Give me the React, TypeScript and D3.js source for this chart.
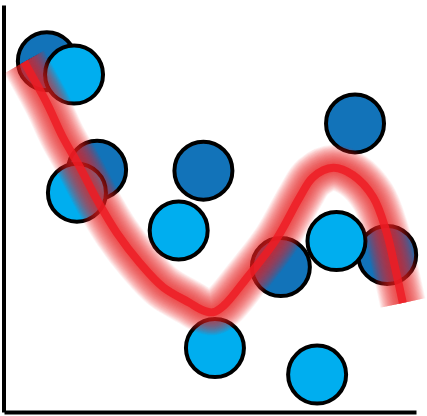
import { useRef, useEffect } from "react";
import * as d3 from "d3";

// dark blue points
const darkX = [1.04, 2.26, 4.84, 8.52, 6.72, 9.30];
const darkY = [8.62, 5.95, 5.93, 7.09, 3.56, 3.86];
// light blue points
const lightX = [1.70, 1.77, 4.24, 5.12, 7.60, 8.07];
const lightY = [8.29, 5.39, 4.46, 1.57, 0.92, 4.20];
// smoothed trend line
const trendX = [0.49, 1.04, 1.43, 1.84, 2.26, 2.74, 3.30, 3.86, 4.51, 4.76, 5.07, 5.34, 5.85, 6.60, 7.18, 7.50, 7.99, 8.47, 8.96, 9.27, 9.49, 9.68];
const trendY = [8.60, 7.59, 6.75, 6.02, 5.21, 4.40, 3.66, 3.07, 2.68, 2.53, 2.45, 2.62, 3.24, 4.23, 5.28, 5.77, 6.00, 5.82, 5.28, 4.47, 3.56, 2.68];

const W = 427;
const H = 416;

export default function App() {
  const svgRef = useRef<SVGSVGElement>(null);

  useEffect(() => {
    if (!svgRef.current) return;
    const svg = d3.select(svgRef.current);
    svg.selectAll("*").remove();

    const x = d3.scaleLinear().domain([0, 10]).range([4, 416]);
    const y = d3.scaleLinear().domain([0, 10]).range([412, 5]);

    const r = 29;
    const dark = darkX.map((v, i) => ({ x: v, y: darkY[i] }));
    const light = lightX.map((v, i) => ({ x: v, y: lightY[i] }));
    const trend = trendX.map((v, i) => ({ x: v, y: trendY[i] }));

    // Axes (lines only)
    svg.append("g").attr("transform", `translate(${x.range()[0] - 0.5},0)`)
      .call(d3.axisLeft(y).ticks(0).tickSizeOuter(0))
      .call(gEl => gEl.select(".domain").attr("stroke", "#000").attr("stroke-width", 4));
    svg.append("g").attr("transform", `translate(0,${y.range()[0]})`)
      .call(d3.axisBottom(x).ticks(0).tickSizeOuter(0))
      .call(gEl => gEl.select(".domain").attr("stroke", "#000").attr("stroke-width", 4));

    // Circles
    svg.append("g").selectAll("circle").data(dark).enter().append("circle")
      .attr("cx", d => x(d.x)).attr("cy", d => y(d.y)).attr("r", r)
      .attr("fill", "#1273b9").attr("stroke", "#000").attr("stroke-width", 4);
    svg.append("g").selectAll("circle").data(light).enter().append("circle")
      .attr("cx", d => x(d.x)).attr("cy", d => y(d.y)).attr("r", r)
      .attr("fill", "#00aeef").attr("stroke", "#000").attr("stroke-width", 4);

    // Soft red trend band: many stacked translucent strokes, butt caps
    const line = d3.line<{ x: number; y: number }>()
      .x(d => x(d.x)).y(d => y(d.y))
      .curve(d3.curveCatmullRom.alpha(0.5));
    const band = svg.append("g").attr("fill", "none");
    for (let w = 46; w >= 8; w -= 1.5) {
      band.append("path").datum(trend)
        .attr("d", line)
        .attr("stroke", "#ed1c24").attr("stroke-opacity", 0.055)
        .attr("stroke-width", w).attr("stroke-linecap", "butt").attr("stroke-linejoin", "round");
    }
    band.append("path").datum(trend)
      .attr("d", line)
      .attr("stroke", "#ed1c24").attr("stroke-opacity", 0.85)
      .attr("stroke-width", 8).attr("stroke-linecap", "butt");
  }, []);

  return (
    <svg ref={svgRef} width={W} height={H}
      style={{ position: "absolute", left: 0, top: 0, background: "#fff" }} />
  );
}
